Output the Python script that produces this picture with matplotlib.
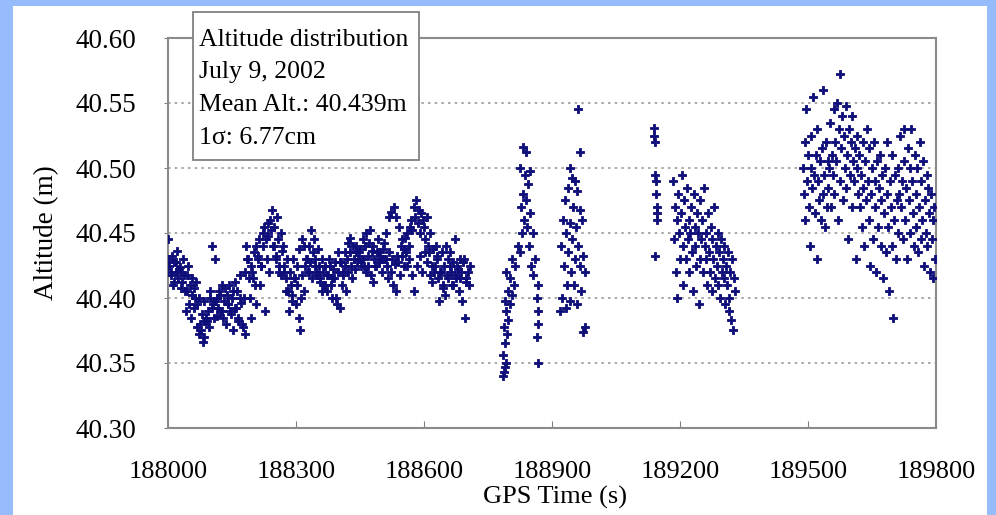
import numpy as np
import matplotlib
matplotlib.use("Agg")
import matplotlib.pyplot as plt
from matplotlib.patches import Rectangle

plt.rcParams['font.family'] = ['Liberation Serif', 'DejaVu Serif']

# segment 1: continuous run, one epoch every 3 s
seg1_start, seg1_stop, seg1_step = 188000, 188710, 3
seg1_alt = [
    40.445, 40.425, 40.418, 40.432, 40.410, 40.428, 40.420, 40.436, 40.415, 40.424,
    40.420, 40.412, 40.430, 40.405, 40.390, 40.418, 40.425, 40.410, 40.385, 40.415,
    40.408, 40.400, 40.412, 40.395, 40.400, 40.380, 40.375, 40.366, 40.370, 40.382,
    40.385, 40.390, 40.378, 40.400, 40.440, 40.395, 40.385, 40.430, 40.400, 40.392,
    40.405, 40.390, 40.410, 40.385, 40.398, 40.380, 40.402, 40.395, 40.410, 40.388,
    40.400, 40.375, 40.412, 40.392, 40.405, 40.385, 40.418, 40.396, 40.380, 40.400,
    40.372, 40.440, 40.430, 40.415, 40.400, 40.385, 40.420, 40.435, 40.410, 40.395,
    40.430, 40.445, 40.410, 40.425, 40.440, 40.455, 40.390, 40.430, 40.448, 40.420,
    40.460, 40.468, 40.440, 40.455, 40.430, 40.462, 40.445, 40.420, 40.450, 40.436,
    40.440, 40.425, 40.415, 40.430, 40.405, 40.420, 40.410, 40.398, 40.430, 40.415,
    40.395, 40.410, 40.385, 40.375, 40.400, 40.418, 40.405, 40.425, 40.430, 40.420,
    40.440, 40.428, 40.452, 40.435, 40.445, 40.430, 40.420, 40.438, 40.425, 40.415,
    40.430, 40.420, 40.410, 40.425, 40.405, 40.418, 40.430, 40.410, 40.400, 40.422,
    40.415, 40.400, 40.395, 40.420, 40.392, 40.428, 40.410, 40.418, 40.425, 40.405,
    40.430, 40.420, 40.435, 40.425, 40.415, 40.430, 40.422, 40.440, 40.428, 40.435,
    40.438, 40.430, 40.445, 40.425, 40.440, 40.450, 40.432, 40.442, 40.452, 40.436,
    40.440, 40.430, 40.425, 40.435, 40.445, 40.428, 40.432, 40.420, 40.438, 40.430,
    40.430, 40.425, 40.415, 40.435, 40.420, 40.430, 40.410, 40.426, 40.405, 40.432,
    40.428, 40.418, 40.440, 40.432, 40.425, 40.446, 40.435, 40.450, 40.440, 40.455,
    40.460, 40.452, 40.470, 40.462, 40.475, 40.458, 40.468, 40.450, 40.465, 40.460,
    40.455, 40.445, 40.462, 40.440, 40.435, 40.450, 40.425, 40.438, 40.420, 40.440,
    40.430, 40.415, 40.398, 40.420, 40.435, 40.410, 40.425, 40.440, 40.418, 40.430,
    40.435, 40.420, 40.410, 40.428, 40.445, 40.415, 40.425, 40.405, 40.430, 40.420,
    40.398, 40.430, 40.385, 40.415, 40.420, 40.410, 40.425,
]
# second pass of segment 1, the epochs in between (every 6 s, offset 1.5 s)
seg1b_start, seg1b_stop, seg1b_step = 188001.5, 188700, 6
seg1b_alt = [
    40.430, 40.420, 40.412, 40.428, 40.422, 40.408, 40.418, 40.405, 40.395, 40.402,
    40.392, 40.378, 40.372, 40.388, 40.398, 40.382, 40.405, 40.392, 40.398, 40.386,
    40.402, 40.390, 40.408, 40.395, 40.390, 40.405, 40.392, 40.382, 40.400, 40.378,
    40.420, 40.430, 40.425, 40.415, 40.440, 40.432, 40.425, 40.450, 40.445, 40.458,
    40.452, 40.440, 40.432, 40.425, 40.418, 40.420, 40.405, 40.390, 40.402, 40.415,
    40.425, 40.438, 40.445, 40.440, 40.430, 40.420, 40.415, 40.425, 40.418, 40.412,
    40.405, 40.410, 40.418, 40.425, 40.415, 40.428, 40.435, 40.428, 40.420, 40.435,
    40.442, 40.446, 40.440, 40.435, 40.430, 40.425, 40.430, 40.420, 40.425, 40.418,
    40.412, 40.425, 40.435, 40.430, 40.442, 40.450, 40.462, 40.466, 40.470, 40.462,
    40.455, 40.445, 40.438, 40.425, 40.430, 40.418, 40.405, 40.425, 40.432, 40.420,
    40.435, 40.428, 40.418, 40.412, 40.425, 40.432, 40.420, 40.408, 40.402, 40.415,
    40.425, 40.410, 40.418, 40.422, 40.415, 40.428, 40.412,
]

# segment 2: two short bursts around 188800 and 188950
seg2_time = [
    188785, 188788, 188790, 188792, 188785, 188790, 188795, 188788, 188797, 188792,
    188802, 188790, 188806, 188797, 188811, 188802, 188792, 188813, 188806, 188820,
    188825, 188830, 188834, 188827, 188839, 188832, 188844, 188837, 188825, 188848,
    188832, 188839, 188841, 188848, 188855, 188846, 188851, 188860, 188855, 188867,
    188865, 188867, 188867, 188865, 188867,
    188961, 188966, 188942, 188947, 188954, 188937, 188959, 188930, 188949, 188966,
    188925, 188942, 188956, 188971, 188933, 188947, 188961, 188921, 188937, 188954,
    188973, 188928, 188944, 188966, 188977, 188935, 188951, 188968, 188923, 188942,
    188959, 188919, 188933, 188977, 188973,
]
seg2_alt = [
    40.340, 40.343, 40.347, 40.350, 40.356, 40.365, 40.372, 40.378, 40.383, 40.390,
    40.395, 40.398, 40.402, 40.405, 40.410, 40.415, 40.420, 40.425, 40.430, 40.440,
    40.435, 40.450, 40.460, 40.470, 40.475, 40.480, 40.488, 40.495, 40.500, 40.498,
    40.516, 40.512, 40.455, 40.465, 40.450, 40.440, 40.425, 40.430, 40.418, 40.410,
    40.400, 40.390, 40.380, 40.370, 40.350,
    40.545, 40.512, 40.500, 40.492, 40.490, 40.485, 40.482, 40.475, 40.470, 40.468,
    40.460, 40.458, 40.455, 40.460, 40.450, 40.445, 40.440, 40.440, 40.435, 40.430,
    40.432, 40.425, 40.420, 40.425, 40.420, 40.410, 40.410, 40.405, 40.400, 40.398,
    40.395, 40.390, 40.392, 40.378, 40.374,
]

# segment 3: a few epochs near 189140, then a run to 189330
seg3a_time = [189139, 189140, 189141, 189142, 189143, 189144, 189145, 189146, 189146, 189141]
seg3a_alt = [40.531, 40.525, 40.520, 40.495, 40.490, 40.480, 40.470, 40.465, 40.460, 40.432]
seg3_start, seg3_stop, seg3_step = 189184, 189330, 2
seg3_alt = [
    40.490, 40.445, 40.470, 40.420, 40.460, 40.400, 40.480, 40.450, 40.430, 40.465,
    40.495, 40.440, 40.410, 40.475, 40.455, 40.430, 40.485, 40.445, 40.460, 40.420,
    40.450, 40.470, 40.435, 40.405, 40.480, 40.455, 40.440, 40.425, 40.465, 40.450,
    40.395, 40.430, 40.475, 40.445, 40.460, 40.420, 40.485, 40.440, 40.430, 40.450,
    40.410, 40.465, 40.435, 40.420, 40.455, 40.445, 40.405, 40.430, 40.470, 40.415,
    40.440, 40.425, 40.450, 40.410, 40.435, 40.400, 40.445, 40.420, 40.430, 40.415,
    40.440, 40.395, 40.425, 40.410, 40.435, 40.400, 40.390, 40.420, 40.383, 40.430,
    40.375, 40.415, 40.405,
]

# segment 4: last run up to 189800
seg4_start, seg4_stop, seg4_step = 189488, 189800, 2
seg4_alt = [
    40.500, 40.480, 40.520, 40.460, 40.545, 40.490, 40.510, 40.470, 40.440, 40.525,
    40.500, 40.485, 40.555, 40.495, 40.465, 40.510, 40.430, 40.530, 40.490, 40.475,
    40.505, 40.460, 40.515, 40.480, 40.560, 40.495, 40.455, 40.520, 40.470, 40.505,
    40.485, 40.500,
    40.535, 40.470, 40.510, 40.495, 40.545, 40.480, 40.520, 40.505, 40.550, 40.460,
    40.530, 40.572, 40.490, 40.515, 40.540, 40.475, 40.525, 40.500, 40.548, 40.485,
    40.510, 40.445, 40.530, 40.495, 40.520, 40.470, 40.540, 40.505, 40.490, 40.515,
    40.430, 40.500, 40.525, 40.480,
    40.510, 40.470, 40.495, 40.455, 40.520, 40.485, 40.440, 40.505, 40.475, 40.530,
    40.490, 40.460, 40.515, 40.425, 40.480, 40.500, 40.445, 40.520, 40.470, 40.490,
    40.420, 40.505, 40.455, 40.485, 40.510, 40.440, 40.475, 40.495, 40.415, 40.465,
    40.500, 40.435, 40.480, 40.520, 40.455, 40.405, 40.490, 40.470, 40.440, 40.510,
    40.385, 40.460, 40.495, 40.430, 40.475, 40.500, 40.450, 40.480,
    40.525, 40.470, 40.490, 40.445, 40.530, 40.505, 40.460, 40.485, 40.430, 40.515,
    40.475, 40.500, 40.450, 40.530, 40.490, 40.465, 40.440, 40.510, 40.480, 40.455,
    40.500, 40.435, 40.470, 40.520, 40.445, 40.490, 40.460, 40.505, 40.425, 40.475,
    40.450, 40.495, 40.440, 40.485, 40.465, 40.420, 40.480, 40.445, 40.460, 40.415,
    40.470, 40.430,
]

x_ticks = [188000, 188300, 188600, 188900, 189200, 189500, 189800]
y_ticks = [40.30, 40.35, 40.40, 40.45, 40.50, 40.55, 40.60]
info_lines = ["Altitude distribution", "July 9, 2002", "Mean Alt.: 40.439m", "1\u03c3: 6.77cm"]

times = np.concatenate([
    np.arange(seg1_start, seg1_stop, seg1_step),
    np.arange(seg1b_start, seg1b_stop, seg1b_step),
    seg2_time,
    seg3a_time,
    np.arange(seg3_start, seg3_stop, seg3_step),
    np.arange(seg4_start, seg4_stop, seg4_step),
])
alts = np.concatenate([seg1_alt, seg1b_alt, seg2_alt, seg3a_alt, seg3_alt, seg4_alt])

W, H = 996, 515
fig = plt.figure(figsize=(W / 100, H / 100), dpi=100, facecolor="#97bcfb")
fig.patches.append(Rectangle((13 / W, 0), (987 - 13) / W, (H - 6) / H,
                             transform=fig.transFigure, facecolor="white",
                             edgecolor="none", zorder=-5))

ax = fig.add_axes([168 / W, 1 - 428 / H, 768 / W, 390 / H])
ax.patch.set_alpha(0)
ax.scatter(times, alts, marker="P", s=40, color="#0e0e7a",
           edgecolors="#0e0e7a", linewidths=0.6, zorder=3)

ax.set_xlim(188000, 189800)
ax.set_ylim(40.30, 40.60)
ax.set_xticks(x_ticks)
ax.set_yticks(y_ticks)
ax.set_yticklabels([f"{v:.2f}" for v in y_ticks])
ax.tick_params(axis="x", direction="in", length=5, color="#808080", pad=24, labelsize=19)
ax.tick_params(axis="y", direction="out", length=3, color="#808080", pad=20, labelsize=19.5)
for s in ax.spines.values():
    s.set_color("#8a8a8a")
    s.set_linewidth(1.5)
ax.yaxis.grid(True, linestyle=(0, (1.5, 2.5)), color="#9a9a9a", linewidth=1.2)
ax.set_axisbelow(True)

ax.set_ylabel("Altitude (m)", fontsize=19.5, labelpad=12)
fig.text(555 / W, 1 - 497 / H, "GPS Time (s)", fontsize=19, ha="center", va="center")

# info box
fig.patches.append(Rectangle((193 / W, 1 - 160 / H), 226 / W, 148 / H,
                             transform=fig.transFigure, facecolor="white",
                             edgecolor="#808080", linewidth=1.3, zorder=5))
for i, line in enumerate(info_lines):
    fig.text(199 / W, 1 - (40 + 32.5 * i) / H, line, fontsize=18.5,
             va="center", ha="left", zorder=6)

fig.savefig("out.png", dpi=100, facecolor=fig.get_facecolor())
